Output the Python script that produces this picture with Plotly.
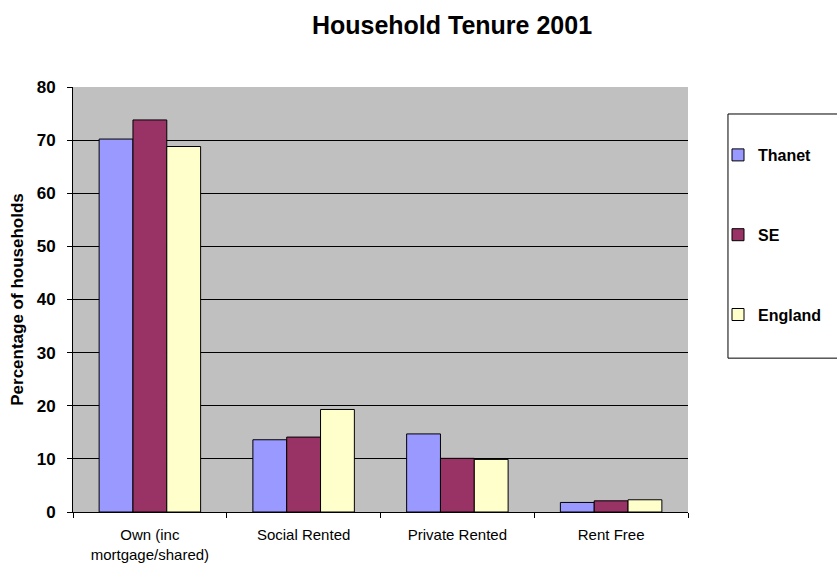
import plotly.graph_objects as go

categories = ["Own (inc<br>mortgage/shared)", "Social Rented", "Private Rented", "Rent Free"]
thanet = [70.2, 13.6, 14.7, 1.8]
south_east = [73.8, 14.1, 10.1, 2.1]
england = [68.8, 19.3, 9.9, 2.3]

series = [
    ("Thanet", thanet, "#9999FF"),
    ("SE", south_east, "#993366"),
    ("England", england, "#FFFFCC"),
]

fig = go.Figure()
for name, vals, color in series:
    fig.add_trace(go.Bar(
        x=categories, y=vals, name="<b>" + name + "</b>", legendgroup=name,
        marker=dict(color=color, line=dict(color="black", width=1)),
    ))

font_family = "Liberation Sans, Arial, sans-serif"

# Legend frame, drawn as a rectangle to the right of the plot area
fig.add_shape(type="rect", xref="paper", yref="paper",
              x0=1.065, x1=1.245, y0=0.362, y1=0.9365,
              line=dict(color="black", width=1), fillcolor="white", layer="below")

fig.update_layout(
    width=837, height=567,
    margin=dict(l=73, r=149, t=87, b=55),
    paper_bgcolor="white",
    plot_bgcolor="#C0C0C0",
    barmode="group", bargap=0.34, bargroupgap=0,
    font=dict(family=font_family, color="black"),
    title=dict(text="<b>Household Tenure 2001</b>", x=0.54, xanchor="center",
               y=0.955, yanchor="middle", font=dict(size=25)),
    xaxis=dict(
        tickson="boundaries", ticks="outside", ticklen=5, tickcolor="black",
        showline=True, linecolor="black", linewidth=1, showgrid=False,
        tickfont=dict(size=15), tickangle=0, ticklabelstandoff=9,
        automargin=False,
    ),
    yaxis=dict(
        range=[0, 80], dtick=10, ticks="outside", ticklen=5, tickcolor="black",
        showline=True, linecolor="black", linewidth=1,
        showgrid=True, gridcolor="black", gridwidth=1, zeroline=False,
        tickfont=dict(size=17, family=font_family), ticklabelstandoff=8,
        tickprefix="<b>", ticksuffix="</b>", automargin=False,
        title=dict(text="<b>Percentage of households</b>", font=dict(size=17), standoff=8),
    ),
    legend=dict(
        xref="container", yref="container",
        x=718 / 837, y=1 - 138 / 567, xanchor="left", yanchor="top",
        borderwidth=0, bgcolor="rgba(0,0,0,0)",
        font=dict(size=16), tracegroupgap=56, traceorder="grouped",
        itemwidth=30,
    ),
)

fig.write_html("out.html")
